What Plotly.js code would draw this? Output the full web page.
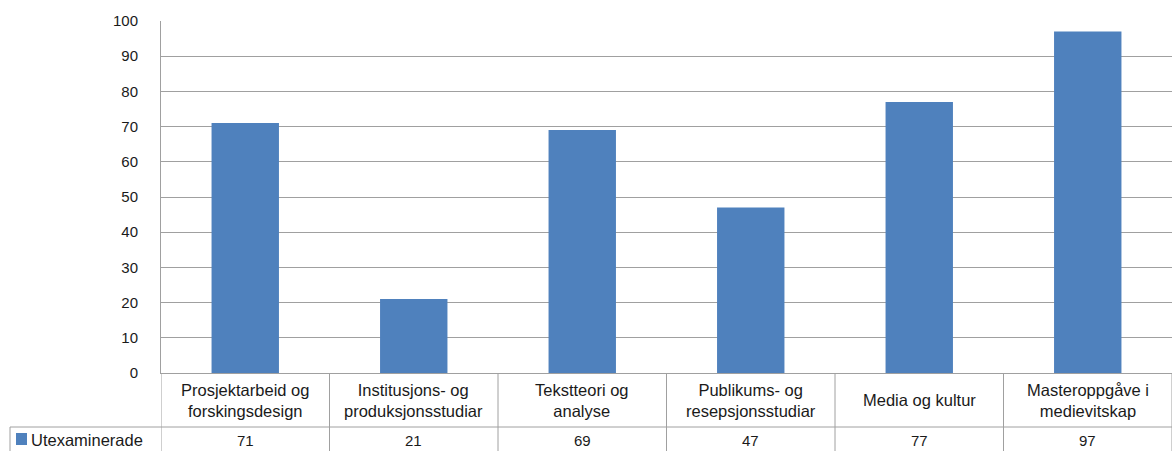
<!DOCTYPE html>
<html><head><meta charset="utf-8">
<script src="https://cdn.plot.ly/plotly-3.0.1.min.js"></script>
<style>html,body{margin:0;padding:0;background:#fff;}#chart{width:1174px;height:451px;}</style>
</head><body><div id="chart"></div>
<script>
const categories = ["Prosjektarbeid og<br>forskingsdesign", "Institusjons- og<br>produksjonsstudiar", "Tekstteori og<br>analyse", "Publikums- og<br>resepsjonsstudiar", "Media og kultur", "Masteroppgåve i<br>medievitskap"];
const values = [71, 21, 69, 47, 77, 97];
const seriesName = "Utexaminerade";
const yTicks = [0,10,20,30,40,50,60,70,80,90,100];

const barColor = "#4f81bd";
const lineColor = "#a0a0a0";
const fam = "Liberation Sans, Arial, sans-serif";
const textFont = {family: fam, size: 16.5, color: "#1a1a1a"};
const numFont = {family: fam, size: 15, color: "#1a1a1a"};

const idx = categories.map((_, i) => i);
const H = 352; // plot height px
const py = p => (373 - p) / H; // pixel -> paper y
const W = 1174 - 161 - 2;
const px = p => (p - 161) / W;

const shapes = [];
shapes.push({type:"line", xref:"paper", yref:"paper", x0:px(10), x1:1, y0:py(427), y1:py(427), line:{color:lineColor, width:1}});
for (let i = 0; i <= categories.length; i++) {
  shapes.push({type:"line", xref:"x", yref:"paper", x0:i-0.5, x1:i-0.5, y0:0, y1:py(452), line:{color:lineColor, width:1}});
}
shapes.push({type:"line", xref:"paper", yref:"paper", x0:px(10), x1:px(10), y0:py(427), y1:py(452), line:{color:lineColor, width:1}});
shapes.push({type:"rect", xref:"paper", yref:"paper", x0:px(16), x1:px(27), y0:py(445), y1:py(433), fillcolor:barColor, line:{width:0}});

const annotations = [];
idx.forEach(i => {
  annotations.push({x:i, xref:"x", y:py(400), yref:"paper", text:categories[i], showarrow:false, xanchor:"center", yanchor:"middle", font:textFont, align:"center"});
  annotations.push({x:i, xref:"x", y:py(440), yref:"paper", text:String(values[i]), showarrow:false, xanchor:"center", yanchor:"middle", font:numFont});
});
annotations.push({x:px(29), xref:"paper", y:py(440), yref:"paper", text:seriesName, showarrow:false, xanchor:"left", yanchor:"middle", font:textFont});

Plotly.newPlot("chart", [{
  type:"bar", x:idx, y:values, name:seriesName, marker:{color:barColor}, hoverinfo:"y"
}], {
  width:1174, height:451,
  margin:{l:161, r:2, t:21, b:78},
  paper_bgcolor:"#fff", plot_bgcolor:"#fff",
  bargap:0.6,
  showlegend:false,
  font:numFont,
  xaxis:{range:[-0.5, categories.length-0.5], showticklabels:false, showgrid:false, zeroline:false, showline:true, linecolor:lineColor, linewidth:1, ticks:"", fixedrange:true},
  yaxis:{range:[0,100], tickvals:yTicks, ticktext:yTicks.map(String), showgrid:true, gridcolor:lineColor, gridwidth:1, zeroline:false, showline:true, linecolor:lineColor, linewidth:1, ticks:"", ticklabelstandoff:19, tickfont:numFont, fixedrange:true},
  shapes:shapes,
  annotations:annotations
}, {displayModeBar:false, staticPlot:true});
</script></body></html>
